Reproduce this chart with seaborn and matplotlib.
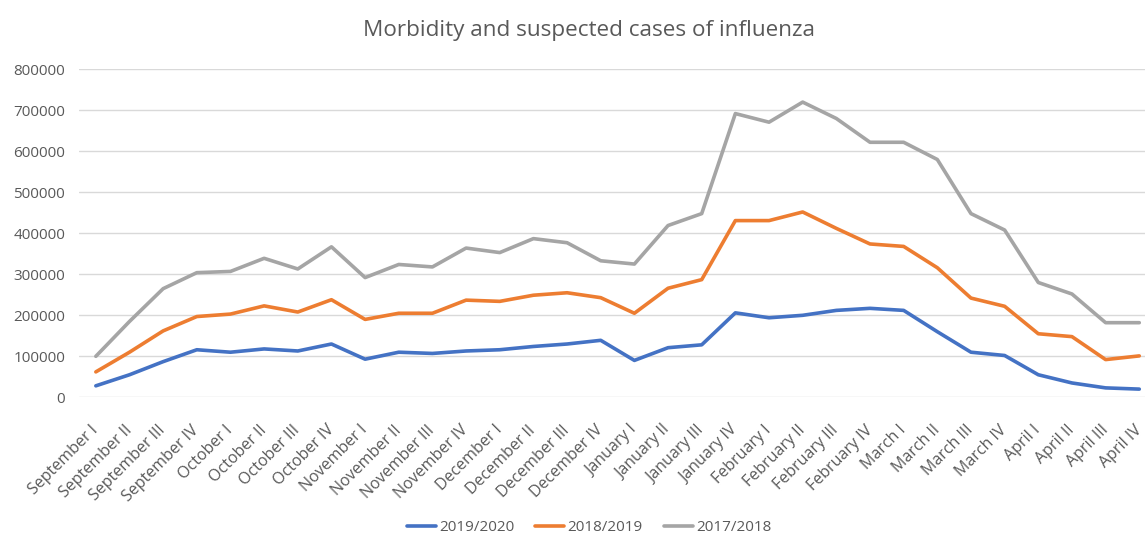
import matplotlib
matplotlib.use("Agg")
import matplotlib.pyplot as plt
import seaborn as sns
import numpy as np
import pandas as pd

# categories: four weeks per month, Sept -> April
months = ["September", "October", "November", "December",
          "January", "February", "March", "April"]
weeks = ["I", "II", "III", "IV"]
periods = ["%s %s" % (m, w) for m in months for w in weeks]

seasons = ["2019/2020", "2018/2019", "2017/2018"]

cases_2019_2020 = [28000, 55000, 87000, 116000, 110000, 118000, 113000, 130000,
                   93000, 110000, 107000, 113000, 116000, 124000, 130000, 139000,
                   90000, 121000, 128000, 206000, 194000, 200000, 212000, 217000,
                   212000, 160000, 110000, 102000, 55000, 35000, 23000, 20000]

cases_2018_2019 = [62000, 110000, 162000, 197000, 203000, 223000, 208000, 238000,
                   190000, 205000, 205000, 237000, 234000, 249000, 255000, 243000,
                   205000, 266000, 287000, 431000, 431000, 452000, 412000, 374000,
                   368000, 316000, 242000, 222000, 155000, 148000, 92000, 101000]

cases_2017_2018 = [100000, 185000, 265000, 304000, 307000, 339000, 313000, 367000,
                   292000, 324000, 318000, 364000, 353000, 387000, 377000, 333000,
                   325000, 419000, 448000, 692000, 671000, 720000, 680000, 622000,
                   622000, 580000, 448000, 408000, 280000, 252000, 182000, 182000]

palette = {"2019/2020": "#4472C4", "2018/2019": "#ED7D31", "2017/2018": "#A5A5A5"}

# long-format table for seaborn
frames = []
for season, vals in zip(seasons, [cases_2019_2020, cases_2018_2019, cases_2017_2018]):
    frames.append(pd.DataFrame({"pos": np.arange(len(periods)),
                                "period": periods,
                                "cases": vals,
                                "season": season}))
data = pd.concat(frames, ignore_index=True)

sns.set_style("white")
plt.rcParams["font.family"] = ["Open Sans", "DejaVu Sans"]

fig = plt.figure(figsize=(11.45, 5.38), dpi=100)
ax = fig.add_axes([0.069, 0.2615, 0.931, 0.6097])

sns.lineplot(data=data, x="pos", y="cases", hue="season", hue_order=seasons,
             palette=palette, linewidth=2.6, ax=ax, legend=True)

ax.set_xlim(-0.5, 31.17)
ax.set_ylim(0, 800000)
ax.set_yticks(np.arange(0, 800001, 100000))
ax.set_yticklabels(["%d" % v for v in np.arange(0, 800001, 100000)],
                   fontsize=11, color="#595959")
ax.set_xticks(np.arange(len(periods)))
ax.set_xticklabels(periods, rotation=45, ha="right", va="center",
                   rotation_mode="anchor", fontsize=11.5, color="#595959")
ax.tick_params(axis="y", length=0, pad=10)
ax.tick_params(axis="x", length=0, pad=22)
ax.grid(axis="y", color="#D9D9D9", linewidth=1)
ax.set_axisbelow(True)
for s in ax.spines.values():
    s.set_visible(False)
ax.set_xlabel("")
ax.set_ylabel("")

fig.text(0.514, 0.944, "Morbidity and suspected cases of influenza",
         ha="center", va="center", fontsize=16.2, color="#595959")

leg = ax.legend(loc="center", bbox_to_anchor=(0.5145, 0.0186), bbox_transform=fig.transFigure,
                ncol=3, frameon=False, fontsize=11, handlelength=1.9,
                columnspacing=1.4, handletextpad=0.2)
for t in leg.get_texts():
    t.set_color("#595959")

fig.savefig("out.png", dpi=100)
